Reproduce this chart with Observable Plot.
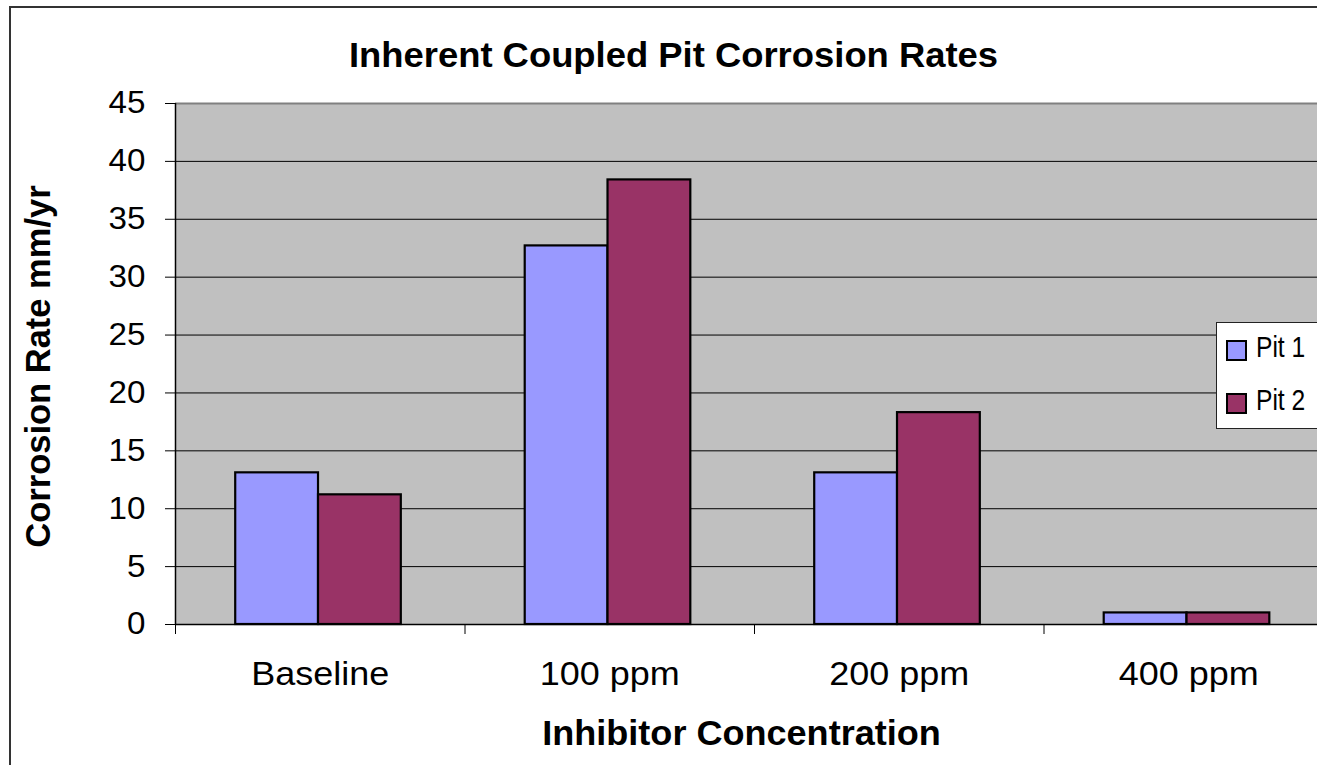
<!DOCTYPE html>
<html>
<head>
<meta charset="utf-8">
<script src="https://cdn.jsdelivr.net/npm/d3@7"></script>
<script src="https://cdn.jsdelivr.net/npm/@observablehq/plot@0.6"></script>
<style>
html, body { margin: 0; padding: 0; background: #fff; overflow: hidden; }
#wrap { position: relative; width: 1317px; height: 765px; overflow: hidden; }
#border { position: absolute; left: 9px; top: 6px; width: 1400px; height: 900px; border-left: 2px solid #333; border-top: 2px solid #333; }
#chart { position: absolute; left: 0; top: 0; }
#legend { position: absolute; left: 1216px; top: 322px; width: 140px; height: 105px; background: #fff; border: 1px solid #222; font-family: "Liberation Sans", Arial, sans-serif; }
.sw { position: absolute; left: 9px; width: 17px; height: 17px; border: 2px solid #000; }
.lab { position: absolute; left: 39px; font-size: 30px; line-height: normal; white-space: nowrap; transform: scaleX(0.82); transform-origin: left center; color: #000; }
</style>
</head>
<body>
<div id="wrap">
  <div id="border"></div>
  <div id="chart"></div>
  <div id="legend"></div>
</div>
<script>
const categories = ["Baseline", "100 ppm", "200 ppm", "400 ppm"];
const seriesNames = ["Pit 1", "Pit 2"];
const pit1 = [13.1, 32.7, 13.1, 1.0];
const pit2 = [11.2, 38.4, 18.3, 1.0];
const seriesColors = ["#9999FF", "#993366"];
const yTicks = [0, 5, 10, 15, 20, 25, 30, 35, 40, 45];
const title = "Inherent Coupled Pit Corrosion Rates";
const xTitle = "Inhibitor Concentration";
const yTitle = "Corrosion Rate mm/yr";

const seriesValues = [pit1, pit2];
const rows = [];
categories.forEach((c, i) => {
  seriesValues.forEach((s, j) => rows.push({cat: c, idx: i, j, series: seriesNames[j], value: s[i]}));
});
const barW = 0.286;
const off = (1 - seriesNames.length * barW) / 2 - 0.006;

const svg = Plot.plot({
  width: 1317,
  height: 765,
  marginTop: 103,
  marginBottom: 141,
  marginLeft: 175,
  marginRight: 0,
  style: {fontFamily: '"Liberation Sans", Arial, sans-serif', background: "transparent", color: "#000"},
  x: {type: "linear", domain: [0, 4], range: [175, 1333]},
  y: {domain: [0, 45], range: [624, 103]},
  color: {domain: seriesNames, range: seriesColors},
  marks: [
    Plot.frame({fill: "#c0c0c0", stroke: "none"}),
    Plot.ruleY(yTicks.filter(v => v > 0 && v < 45), {stroke: "#000", strokeWidth: 1}),
    Plot.ruleY([45], {stroke: "#808080", strokeWidth: 2}),
    Plot.rectY(rows, {
      x1: d => d.idx + off + d.j * barW,
      x2: d => d.idx + off + (d.j + 1) * barW,
      y1: 0,
      y2: "value",
      fill: "series",
      stroke: "#000",
      strokeWidth: 2.2
    }),
    Plot.ruleY([0], {stroke: "#000", strokeWidth: 1.5}),
    Plot.ruleX([0], {stroke: "#000", strokeWidth: 1.5}),
    Plot.axisY({ticks: yTicks, tickSize: 10, tickPadding: 20, fontSize: 31, label: null, tickFormat: d => String(d)}),
    Plot.axisX({ticks: [0, 1, 2, 3, 4], tickSize: 10, tickFormat: () => "", label: null}),
    Plot.axisX({ticks: [0.5, 1.5, 2.5, 3.5], tickSize: 0, tickPadding: 37, fontSize: 33, label: null,
      tickFormat: d => categories[Math.floor(d)]}),
    Plot.text([title], {text: d => d, frameAnchor: "top", dx: -73, dy: -47.7, fontSize: 35, fontWeight: "bold",
      textAnchor: "middle", lineAnchor: "middle"}),
    Plot.text([xTitle], {text: d => d, frameAnchor: "bottom", dx: -5, dy: 109, fontSize: 35, fontWeight: "bold",
      textAnchor: "middle", lineAnchor: "middle"}),
    Plot.text([yTitle], {text: d => d, frameAnchor: "left", rotate: -90, dx: -137, dy: 2.5, fontSize: 34.5, fontWeight: "bold",
      textAnchor: "middle", lineAnchor: "middle"})
  ]
});
document.getElementById("chart").appendChild(svg);

function stretch(nodes, f) {
  nodes.forEach(t => {
    const L = t.getComputedTextLength();
    if (L > 0) {
      t.setAttribute("textLength", L * f);
      t.setAttribute("lengthAdjust", "spacingAndGlyphs");
    }
  });
}
const allText = Array.from(svg.querySelectorAll("text"));
stretch(allText.filter(t => t.textContent === title), 1.04);
stretch(allText.filter(t => t.textContent === xTitle), 1.03);
stretch(allText.filter(t => categories.includes(t.textContent)), 1.09);
stretch(allText.filter(t => yTicks.map(String).includes(t.textContent)), 1.07);

// legend
const legend = document.getElementById("legend");
const swTops = [17, 70];
const labTops = [6.5, 60];
seriesNames.forEach((name, i) => {
  const sw = document.createElement("div");
  sw.className = "sw";
  sw.style.top = swTops[i] + "px";
  sw.style.background = seriesColors[i];
  legend.appendChild(sw);
  const lab = document.createElement("div");
  lab.className = "lab";
  lab.style.top = labTops[i] + "px";
  lab.textContent = name;
  legend.appendChild(lab);
});
</script>
</body>
</html>
